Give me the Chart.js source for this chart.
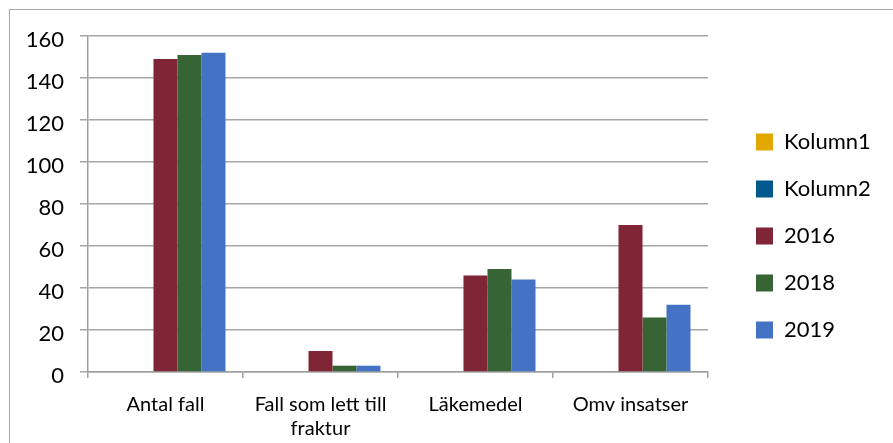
<!DOCTYPE html>
<html><head><meta charset="utf-8">
<script src="https://cdn.jsdelivr.net/npm/chart.js@4"></script>
<style>
html,body{margin:0;padding:0;background:#fff;overflow:hidden}
#wrap{position:relative;width:893px;height:443px}
#frame{position:absolute;left:9px;top:9px;width:1000px;height:1000px;border:1px solid #a6a6a6;box-sizing:border-box}
canvas{position:absolute;left:0;top:0}
</style></head><body>
<div id="wrap"><div id="frame"></div><canvas id="c" width="893" height="443"></canvas></div>
<script>
const categories = ['Antal fall', ['Fall som lett till', 'fraktur'], 'Läkemedel', 'Omv insatser'];
const seriesNames = ['Kolumn1', 'Kolumn2', '2016', '2018', '2019'];
const kolumn1 = [null, null, null, null];
const kolumn2 = [null, null, null, null];
const values2016 = [149, 10, 46, 70];
const values2018 = [151, 3, 49, 26];
const values2019 = [152, 3, 44, 32];
const yTickValues = [0, 20, 40, 60, 80, 100, 120, 140, 160];

const colors = ['#E2A700', '#00588C', '#7F2536', '#376435', '#4472C4'];
const seriesValues = [kolumn1, kolumn2, values2016, values2018, values2019];

const legendPlace = {
  id: 'legendPlace',
  afterLayout(chart) {
    const l = chart.legend;
    const pad = l.options.labels.padding;
    const w = l.width, h = 400;
    l.left = 756 - pad; l.right = l.left + w;
    l.top = 131 - pad; l.bottom = l.top + h;
  }
};

new Chart(document.getElementById('c'), {
  type: 'bar',
  data: {
    labels: categories,
    datasets: seriesNames.map((n, i) => ({
      label: n,
      data: seriesValues[i],
      backgroundColor: colors[i],
      borderWidth: 0,
      categoryPercentage: 0.774,
      barPercentage: 1
    }))
  },
  options: {
    responsive: false,
    animation: false,
    events: [],
    layout: { padding: { top: 36, right: 185, left: 0, bottom: 0 } },
    plugins: {
      tooltip: { enabled: false },
      legend: {
        position: 'chartArea',
        align: 'start',
        labels: {
          boxWidth: 17, boxHeight: 17, padding: 25,
          color: '#000',
          font: { family: 'Lato', size: 22 }
        }
      }
    },
    scales: {
      x: {
        afterFit(s) { s.height = 71; },
        grid: { offset: true, drawOnChartArea: false, drawTicks: true, tickLength: 6, color: '#a0a0a0', lineWidth: 1.5 },
        border: { color: '#a0a0a0', width: 1.5 },
        ticks: { color: '#000', font: { family: 'Lato', size: 20 }, padding: 15, maxRotation: 0, autoSkip: false }
      },
      y: {
        min: 0, max: 160,
        afterFit(s) { s.width = 88; },
        afterBuildTicks(s) { s.ticks = yTickValues.map(v => ({ value: v })); },
        grid: { color: '#a6a6a6', lineWidth: 1.5, tickLength: 8 },
        border: { color: '#a0a0a0', width: 1.5 },
        ticks: { color: '#000', font: { family: 'Lato', size: 22 }, padding: 16, labelOffset: 4 }
      }
    }
  },
  plugins: [legendPlace]
});
</script>
</body></html>
